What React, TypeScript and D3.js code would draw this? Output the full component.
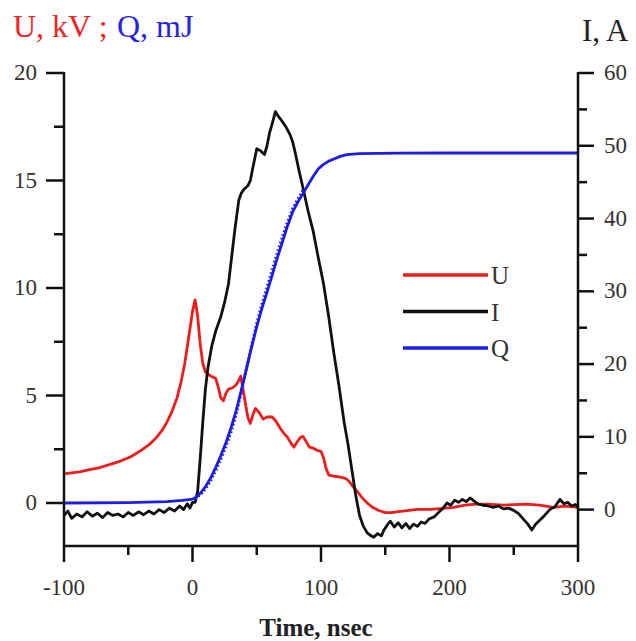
import React from "react";
import * as d3 from "d3";

// ---------- data ----------
// U, kV (left axis) vs time, ns
const U_DATA: [number, number][] = [
  [-100, 1.35], [-94, 1.4], [-88, 1.45], [-80, 1.55], [-72, 1.65], [-64, 1.8], [-56, 1.95], [-48, 2.15],
  [-40, 2.45], [-34, 2.7], [-28, 3.05], [-24, 3.35], [-20, 3.75], [-16, 4.25], [-12, 4.9], [-9, 5.6],
  [-6, 6.5], [-3, 7.7], [0, 8.9], [2, 9.45], [4, 8.7], [6, 7.4], [8, 6.5], [10, 6.1], [13, 5.95],
  [16, 5.85], [18, 5.8], [20, 5.4], [22, 4.9], [24, 4.75], [26, 5.1], [28, 5.3], [31, 5.35], [34, 5.5],
  [36, 5.7], [37.5, 5.9], [39, 5.4], [41, 4.7], [43, 4.0], [45, 3.7], [47, 4.1], [49, 4.4], [52, 4.2],
  [55, 3.9], [58, 4.0], [62, 4.0], [65, 3.8], [68, 3.5], [71, 3.25], [74, 3.05], [77, 2.75], [79, 2.6],
  [81, 2.8], [84, 3.05], [86, 3.1], [88, 2.9], [91, 2.6], [94, 2.55], [97, 2.45], [100, 2.4], [102, 2.1],
  [104, 1.6], [106, 1.3], [110, 1.25], [115, 1.2], [119, 1.15], [122, 1.0], [125, 0.75], [128, 0.55],
  [132, 0.25], [136, 0.0], [140, -0.2], [145, -0.35], [150, -0.45], [155, -0.45], [160, -0.4],
  [167, -0.35], [175, -0.3], [185, -0.3], [195, -0.25], [203, -0.2], [212, -0.1], [221, -0.05],
  [230, -0.05], [242, -0.1], [250, -0.08], [260, -0.05], [270, -0.1], [281, -0.2], [290, -0.15], [300, -0.2],
];

// I, A (right axis) vs time, ns
const I_DATA: [number, number][] = [
  [-100, -0.8], [-97, -0.2], [-94, -1.2], [-90, -0.6], [-86, -1.0], [-82, -0.3], [-78, -0.9], [-74, -0.5],
  [-70, -1.1], [-66, -0.4], [-62, -0.8], [-58, -0.6], [-54, -1.0], [-50, -0.4], [-46, -0.8], [-42, -0.3],
  [-38, -0.7], [-34, -0.2], [-30, -0.6], [-26, 0.0], [-22, -0.4], [-18, 0.2], [-14, -0.2], [-10, 0.5],
  [-7, 0.0], [-4, 0.8], [-2, 0.2], [0, 1.0], [2, 1.0], [4, 2.5], [6, 7], [8, 12], [10, 16.5], [12, 19.5],
  [15, 22.5], [18, 24.5], [22, 26.5], [25, 28.5], [28, 31], [30, 34], [33, 38.5], [36, 42.5], [38, 43.5],
  [40, 44], [43, 44.5], [45, 45.2], [47, 47], [50, 49.6], [53, 49.3], [56, 48.8], [58, 50], [60, 51.8],
  [62, 53], [64.5, 54.7], [67, 54], [70, 53.3], [73, 52.5], [76, 51.5], [78, 50.5], [80, 49], [83, 46.5],
  [86, 44.2], [90, 41], [94, 38.2], [98, 34.5], [102, 31], [106, 26.5], [110, 21.5], [114, 17], [118, 12],
  [121, 9], [124, 5.5], [127, 2], [130, -0.8], [133, -2.3], [136, -3.2], [139, -3.6], [141, -3.8],
  [144, -3.3], [147, -3.6], [149, -2.8], [152, -2.0], [154, -1.6], [157, -2.4], [160, -1.8], [163, -2.5],
  [166, -1.9], [169, -2.6], [172, -2.0], [175, -2.3], [178, -1.7], [181, -1.9], [184, -1.3], [188, -1.0],
  [192, -0.3], [195, 0.2], [198, 0.9], [201, 0.6], [204, 1.3], [207, 1.0], [210, 1.4], [213, 1.1],
  [216, 1.6], [219, 1.2], [222, 0.8], [226, 0.6], [230, 0.5], [234, 0.3], [238, 0.5], [242, 0.1],
  [246, 0.2], [250, -0.1], [254, -0.6], [258, -1.4], [261, -2.0], [264, -2.8], [267, -2.0], [270, -1.5],
  [274, -0.8], [278, 0.0], [282, 0.4], [286, 1.4], [289, 0.8], [292, 1.0], [295, 0.5], [298, 0.7], [300, 0.3],
];

// Q, mJ (left axis) vs time, ns — measured
const Q_DATA: [number, number][] = [
  [-100, 0], [-50, 0.02], [-20, 0.06], [-8, 0.12], [0, 0.18], [3, 0.28], [6, 0.45], [10, 0.75], [14, 1.15],
  [18, 1.65], [22, 2.2], [26, 2.8], [30, 3.5], [34, 4.3], [38, 5.25], [42, 6.25], [46, 7.25], [50, 8.2],
  [54, 9.05], [58, 9.8], [62, 10.6], [66, 11.4], [70, 12.15], [74, 12.9], [78, 13.55], [82, 14.0],
  [86, 14.4], [90, 14.8], [94, 15.2], [98, 15.55], [102, 15.75], [106, 15.9], [110, 16.0], [115, 16.12],
  [120, 16.2], [130, 16.25], [160, 16.27], [200, 16.28], [300, 16.28],
];

// Q, mJ — dotted companion curve
const Q_DOT_DATA: [number, number][] = [
  [2, 0.2], [6, 0.38], [10, 0.65], [14, 1.02], [18, 1.5], [22, 2.03], [26, 2.62], [30, 3.3], [34, 4.12],
  [38, 5.15], [42, 6.25], [46, 7.35], [50, 8.35], [54, 9.25], [58, 10.05], [62, 10.85], [66, 11.65],
  [70, 12.4], [74, 13.1], [78, 13.7], [82, 14.15], [86, 14.55],
];

const X_MAJOR = [-100, 0, 100, 200, 300];
const X_MINOR = [-50, 50, 150, 250];
const YL_MAJOR = [0, 5, 10, 15, 20];
const YL_MINOR = [2.5, 7.5, 12.5, 17.5];
const YR_MAJOR = [0, 10, 20, 30, 40, 50, 60];
const YR_MINOR = [5, 15, 25, 35, 45, 55];

const LEGEND = [
  { key: "U", color: "#ee1c1c" },
  { key: "I", color: "#111111" },
  { key: "Q", color: "#1c1ce6" },
];

// ---------- layout ----------
const W = 636;
const H = 641;
const X0 = 64;
const X1 = 578;
const YTOP = 73;
const YBOT = 546;
const FONT = "'Liberation Serif', 'Times New Roman', serif";

export default function App() {
  const x = d3.scaleLinear().domain([-100, 300]).range([X0, X1]);
  const yL = d3.scaleLinear().domain([-2, 20]).range([YBOT, YTOP]);
  const yR = d3.scaleLinear().domain([-5, 60]).range([YBOT, YTOP]);

  const lineL = d3.line<[number, number]>().x((d) => x(d[0])).y((d) => yL(d[1]));
  const lineR = d3.line<[number, number]>().x((d) => x(d[0])).y((d) => yR(d[1]));

  const axisColor = "#111";
  const labelColor = "#333";

  return (
    <svg
      width={W}
      height={H}
      style={{ position: "absolute", left: 0, top: 0, background: "#fff" }}
      fontFamily={FONT}
    >
      <rect x={0} y={0} width={W} height={H} fill="#fff" />

      {/* header labels */}
      <text x={13} y={37} fontSize={32} fill="#ee2626">U, kV ;</text>
      <text x={117} y={37} fontSize={32} fill="#2424e0">Q, mJ</text>
      <text x={582} y={41} fontSize={31} fill="#222">I, A</text>

      {/* data */}
      <path d={lineL(U_DATA) ?? ""} fill="none" stroke="#ee1c1c" strokeWidth={2.8} strokeLinejoin="round" />
      <path d={lineR(I_DATA) ?? ""} fill="none" stroke="#111" strokeWidth={2.8} strokeLinejoin="round" />
      <path d={lineL(Q_DOT_DATA) ?? ""} fill="none" stroke="#1c1ce6" strokeWidth={3} strokeDasharray="1.5 2.5" />
      <path d={lineL(Q_DATA) ?? ""} fill="none" stroke="#1c1ce6" strokeWidth={2.8} strokeLinejoin="round" />

      {/* axes lines */}
      <g stroke={axisColor} strokeWidth={2.5} fill="none">
        <line x1={X0} x2={X0} y1={YTOP - 1} y2={YBOT + 1} />
        <line x1={X1} x2={X1} y1={YTOP - 1} y2={YBOT + 1} />
        <line x1={X0 - 1} x2={X1 + 1} y1={YBOT} y2={YBOT} />
        {X_MAJOR.map((v) => (
          <line key={"xM" + v} x1={x(v)} x2={x(v)} y1={YBOT} y2={YBOT + 16} />
        ))}
        {X_MINOR.map((v) => (
          <line key={"xm" + v} x1={x(v)} x2={x(v)} y1={YBOT} y2={YBOT + 9} />
        ))}
        {YL_MAJOR.map((v) => (
          <line key={"lM" + v} x1={X0} x2={X0 - 18} y1={yL(v)} y2={yL(v)} />
        ))}
        {YL_MINOR.map((v) => (
          <line key={"lm" + v} x1={X0} x2={X0 - 10} y1={yL(v)} y2={yL(v)} />
        ))}
        {YR_MAJOR.map((v) => (
          <line key={"rM" + v} x1={X1} x2={X1 + 16} y1={yR(v)} y2={yR(v)} />
        ))}
        {YR_MINOR.map((v) => (
          <line key={"rm" + v} x1={X1} x2={X1 + 9} y1={yR(v)} y2={yR(v)} />
        ))}
      </g>

      {/* tick labels */}
      <g fontSize={23} fill={labelColor}>
        {X_MAJOR.map((v) => (
          <text key={"xt" + v} x={x(v)} y={595} textAnchor="middle">{v}</text>
        ))}
        {YL_MAJOR.map((v) => (
          <text key={"lt" + v} x={37} y={yL(v) + 7} textAnchor="end">{v}</text>
        ))}
        {YR_MAJOR.map((v) => (
          <text key={"rt" + v} x={604} y={yR(v) + 7} textAnchor="start">{v}</text>
        ))}
      </g>

      <text x={316} y={636} fontSize={25} fontWeight="bold" fill="#222" textAnchor="middle">Time, nsec</text>

      {/* legend */}
      {LEGEND.map((l, i) => {
        const ly = 275 + i * 36.5;
        return (
          <g key={l.key}>
            <line x1={403} x2={488} y1={ly} y2={ly} stroke={l.color} strokeWidth={3.5} />
            <text x={491} y={ly + 9} fontSize={25} fill="#333">{l.key}</text>
          </g>
        );
      })}
    </svg>
  );
}
